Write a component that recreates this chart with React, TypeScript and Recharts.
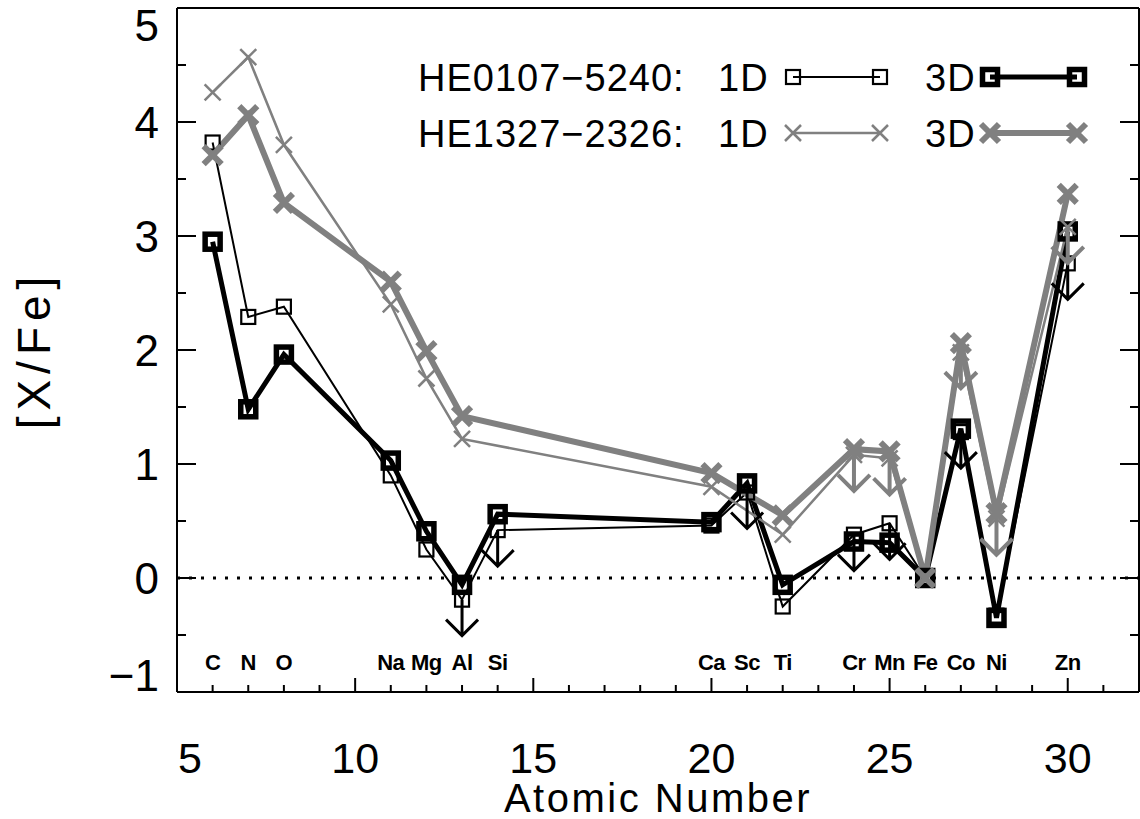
import React from 'react'
import { ComposedChart, Line, XAxis, YAxis, ReferenceLine, Legend } from 'recharts'

// elements shown on the plot (symbol and atomic number)
const elementSymbols = ['C', 'N', 'O', 'Na', 'Mg', 'Al', 'Si', 'Ca', 'Sc', 'Ti', 'Cr', 'Mn', 'Fe', 'Co', 'Ni', 'Zn']
const elementZ = [6, 7, 8, 11, 12, 13, 14, 20, 21, 22, 24, 25, 26, 27, 28, 30]

// HE0107-5240
const he0107Elements = ['C', 'N', 'O', 'Na', 'Mg', 'Al', 'Si', 'Ca', 'Sc', 'Ti', 'Cr', 'Mn', 'Fe', 'Co', 'Ni', 'Zn']
const he0107OneD = [3.82, 2.29, 2.38, 0.9, 0.25, -0.19, 0.42, 0.46, 0.75, -0.25, 0.38, 0.48, 0, 1.28, -0.33, 2.76]
const he0107ThreeD = [2.95, 1.48, 1.96, 1.03, 0.41, -0.06, 0.56, 0.49, 0.83, -0.06, 0.32, 0.31, 0, 1.31, -0.35, 3.04]
const he0107Limits = ['Al', 'Si', 'Sc', 'Cr', 'Mn', 'Co', 'Zn']

// HE1327-2326
const he1327Elements = ['C', 'N', 'O', 'Na', 'Mg', 'Al', 'Ca', 'Ti', 'Cr', 'Mn', 'Fe', 'Co', 'Ni', 'Zn']
const he1327OneD = [4.26, 4.57, 3.8, 2.4, 1.75, 1.22, 0.8, 0.38, 1.08, 1.05, 0, 1.98, 0.52, 3.08]
const he1327ThreeD = [3.71, 4.06, 3.29, 2.6, 1.99, 1.42, 0.92, 0.55, 1.13, 1.11, 0, 2.06, 0.57, 3.37]
const he1327Limits = ['Cr', 'Mn', 'Co', 'Ni', 'Zn']

const xTicks = [5, 6, 7, 8, 9, 10, 11, 12, 13, 14, 15, 16, 17, 18, 19, 20, 21, 22, 23, 24, 25, 26, 27, 28, 29, 30, 31, 32]
const xTickLabels = [5, 10, 15, 20, 25, 30]
const yTicks = [-1, -0.5, 0, 0.5, 1, 1.5, 2, 2.5, 3, 3.5, 4, 4.5, 5]
const yTickLabels = [-1, 0, 1, 2, 3, 4, 5]

const BLACK = '#000000'
const GREY = '#808080'
const FONT = '"Liberation Sans", Arial, sans-serif'

type Row = { z: number; v: number; lim: boolean }

const buildRows = (syms: string[], vals: number[], limits: string[]): Row[] =>
  syms.map((s, i) => ({ z: elementZ[elementSymbols.indexOf(s)], v: vals[i], lim: limits.includes(s) }))

const he0107OneDRows = buildRows(he0107Elements, he0107OneD, he0107Limits)
const he0107ThreeDRows = buildRows(he0107Elements, he0107ThreeD, [])
const he1327OneDRows = buildRows(he1327Elements, he1327OneD, he1327Limits)
const he1327ThreeDRows = buildRows(he1327Elements, he1327ThreeD, [])

type MarkKind = 'sq1' | 'sq3' | 'x1' | 'x3'

const Mark = ({ kind, cx, cy }: { kind: MarkKind; cx: number; cy: number }) => {
  if (kind === 'sq1') {
    return <rect x={cx - 7} y={cy - 7} width={14} height={14} fill="none" stroke={BLACK} strokeWidth={2.2} />
  }
  if (kind === 'sq3') {
    return <rect x={cx - 7.5} y={cy - 7.5} width={15} height={15} fill="none" stroke={BLACK} strokeWidth={5.5} />
  }
  const h = kind === 'x1' ? 8 : 9
  return (
    <path
      d={`M${cx - h},${cy - h}L${cx + h},${cy + h}M${cx - h},${cy + h}L${cx + h},${cy - h}`}
      fill="none"
      stroke={GREY}
      strokeWidth={kind === 'x1' ? 2.5 : 6}
    />
  )
}

// upper limit arrow
const Arrow = ({ cx, cy, color, width }: { cx: number; cy: number; color: string; width: number }) => {
  const tip = cy + 36
  return (
    <path
      d={`M${cx},${cy}L${cx},${tip}M${cx - 16},${tip - 16}L${cx},${tip}L${cx + 16},${tip - 16}`}
      fill="none"
      stroke={color}
      strokeWidth={width}
    />
  )
}

const makeDot = (kind: MarkKind, color: string, arrowWidth: number) => (props: any) => {
  const { cx, cy, payload, index } = props
  if (cx == null || cy == null) return <g key={`${kind}-${index}`} />
  return (
    <g key={`${kind}-${index}`}>
      {payload && payload.lim && <Arrow cx={cx} cy={cy} color={color} width={arrowWidth} />}
      <Mark kind={kind} cx={cx} cy={cy} />
    </g>
  )
}

const BottomTick = (props: any) => {
  const { x, y, payload } = props
  const v = payload.value
  const major = xTickLabels.includes(v)
  const el = elementZ.indexOf(v)
  return (
    <g>
      <line x1={x} y1={y} x2={x} y2={y - (major ? 14 : 7)} stroke={BLACK} strokeWidth={2} />
      {major && (
        <text x={v === 5 ? x + 13 : x} y={y + 81} textAnchor="middle" fontFamily={FONT} fontSize={43} fill={BLACK}>
          {v}
        </text>
      )}
      {el >= 0 && (
        <text x={x} y={y - 22} textAnchor="middle" fontFamily={FONT} fontWeight="bold" fontSize={22} letterSpacing={-0.5} fill={BLACK}>
          {elementSymbols[el]}
        </text>
      )}
    </g>
  )
}

const TopTick = (props: any) => {
  const { x, y, payload } = props
  const major = xTickLabels.includes(payload.value)
  return <line x1={x} y1={y} x2={x} y2={y + (major ? 14 : 7)} stroke={BLACK} strokeWidth={2} />
}

const LeftTick = (props: any) => {
  const { x, y, payload } = props
  const v = payload.value
  const major = yTickLabels.includes(v)
  const shift = v === 5 ? 17 : v === -1 ? -17 : 0
  return (
    <g>
      <line x1={x} y1={y} x2={x + (major ? 19 : 9)} y2={y} stroke={BLACK} strokeWidth={2} />
      {major && (
        <text x={x - 18} y={y + shift + 16} textAnchor="end" fontFamily={FONT} fontSize={44} fill={BLACK}>
          {v < 0 ? `\u2212${Math.abs(v)}` : v}
        </text>
      )}
    </g>
  )
}

const RightTick = (props: any) => {
  const { x, y, payload } = props
  const major = yTickLabels.includes(payload.value)
  return <line x1={x} y1={y} x2={x - (major ? 19 : 9)} y2={y} stroke={BLACK} strokeWidth={2} />
}

const YTitle = (props: any) => {
  const vb = props.viewBox || { y: 8, height: 684 }
  const cy = vb.y + vb.height / 2
  return (
    <text
      x={50}
      y={cy}
      transform={`rotate(-90 50 ${cy})`}
      textAnchor="middle"
      fontFamily={FONT}
      fontSize={46}
      letterSpacing={6}
      fill={BLACK}
    >
      [X/Fe]
    </text>
  )
}

const XTitle = (props: any) => {
  const vb = props.viewBox || { x: 177, y: 692, width: 962 }
  return (
    <text x={vb.x + vb.width / 2} y={vb.y + 120} textAnchor="middle" fontFamily={FONT} fontSize={40} letterSpacing={2.5} fill={BLACK}>
      Atomic Number
    </text>
  )
}

const LegendBox = () => {
  const t = { fontFamily: FONT, fontSize: 38, letterSpacing: 1, fill: BLACK }
  const r1 = 32
  const r2 = 88
  return (
    <svg width={720} height={120} style={{ display: 'block', overflow: 'visible' }}>
      <text x={8} y={r1 + 13.5} {...t}>HE0107{'\u2212'}5240:</text>
      <text x={308} y={r1 + 13.5} {...t}>1D</text>
      <line x1={383} y1={r1} x2={470} y2={r1} stroke={BLACK} strokeWidth={2} />
      <Mark kind="sq1" cx={383} cy={r1} />
      <Mark kind="sq1" cx={470} cy={r1} />
      <text x={515} y={r1 + 13.5} {...t}>3D</text>
      <line x1={580} y1={r1} x2={667} y2={r1} stroke={BLACK} strokeWidth={5} />
      <Mark kind="sq3" cx={580} cy={r1} />
      <Mark kind="sq3" cx={667} cy={r1} />

      <text x={8} y={r2 + 13.5} {...t}>HE1327{'\u2212'}2326:</text>
      <text x={308} y={r2 + 13.5} {...t}>1D</text>
      <line x1={383} y1={r2} x2={470} y2={r2} stroke={GREY} strokeWidth={2.5} />
      <Mark kind="x1" cx={383} cy={r2} />
      <Mark kind="x1" cx={470} cy={r2} />
      <text x={515} y={r2 + 13.5} {...t}>3D</text>
      <line x1={580} y1={r2} x2={667} y2={r2} stroke={GREY} strokeWidth={6} />
      <Mark kind="x3" cx={580} cy={r2} />
      <Mark kind="x3" cx={667} cy={r2} />
    </svg>
  )
}

export default function App() {
  return (
    <div style={{ position: 'absolute', left: 0, top: 0, background: '#fff' }}>
      <ComposedChart width={1140} height={819} margin={{ top: 7, right: 0, bottom: 0, left: 0 }}>
        <XAxis
          dataKey="z"
          type="number"
          domain={[5, 32]}
          ticks={xTicks}
          interval={0}
          allowDataOverflow
          height={127}
          tickSize={0}
          tickMargin={0}
          tickLine={false}
          axisLine={{ stroke: BLACK, strokeWidth: 2 }}
          tick={<BottomTick />}
          label={<XTitle />}
        />
        <XAxis
          xAxisId="top"
          orientation="top"
          type="number"
          domain={[5, 32]}
          ticks={xTicks}
          interval={0}
          allowDataOverflow
          height={1}
          tickSize={0}
          tickMargin={0}
          tickLine={false}
          axisLine={{ stroke: BLACK, strokeWidth: 2 }}
          tick={<TopTick />}
        />
        <YAxis
          type="number"
          domain={[-1, 5]}
          ticks={yTicks}
          interval={0}
          allowDataOverflow
          width={177}
          tickSize={0}
          tickMargin={0}
          tickLine={false}
          axisLine={{ stroke: BLACK, strokeWidth: 2 }}
          tick={<LeftTick />}
          label={<YTitle />}
        />
        <YAxis
          yAxisId="right"
          orientation="right"
          type="number"
          domain={[-1, 5]}
          ticks={yTicks}
          interval={0}
          allowDataOverflow
          width={1}
          tickSize={0}
          tickMargin={0}
          tickLine={false}
          axisLine={{ stroke: BLACK, strokeWidth: 2 }}
          tick={<RightTick />}
        />
        <ReferenceLine y={0} stroke={BLACK} strokeWidth={3} strokeDasharray="3 9" />
        <Legend
          layout="horizontal"
          verticalAlign="middle"
          align="center"
          content={<LegendBox />}
          wrapperStyle={{ left: 410, top: 45, width: 720, height: 120 }}
        />
        <Line
          data={he0107OneDRows}
          dataKey="v"
          name="HE0107-5240 1D"
          type="linear"
          stroke={BLACK}
          strokeWidth={2}
          dot={makeDot('sq1', BLACK, 3)}
          activeDot={false}
          isAnimationActive={false}
        />
        <Line
          data={he0107ThreeDRows}
          dataKey="v"
          name="HE0107-5240 3D"
          type="linear"
          stroke={BLACK}
          strokeWidth={5}
          dot={makeDot('sq3', BLACK, 3)}
          activeDot={false}
          isAnimationActive={false}
        />
        <Line
          data={he1327OneDRows}
          dataKey="v"
          name="HE1327-2326 1D"
          type="linear"
          stroke={GREY}
          strokeWidth={2.5}
          dot={makeDot('x1', GREY, 4)}
          activeDot={false}
          isAnimationActive={false}
        />
        <Line
          data={he1327ThreeDRows}
          dataKey="v"
          name="HE1327-2326 3D"
          type="linear"
          stroke={GREY}
          strokeWidth={6}
          dot={makeDot('x3', GREY, 4)}
          activeDot={false}
          isAnimationActive={false}
        />
      </ComposedChart>
    </div>
  )
}
